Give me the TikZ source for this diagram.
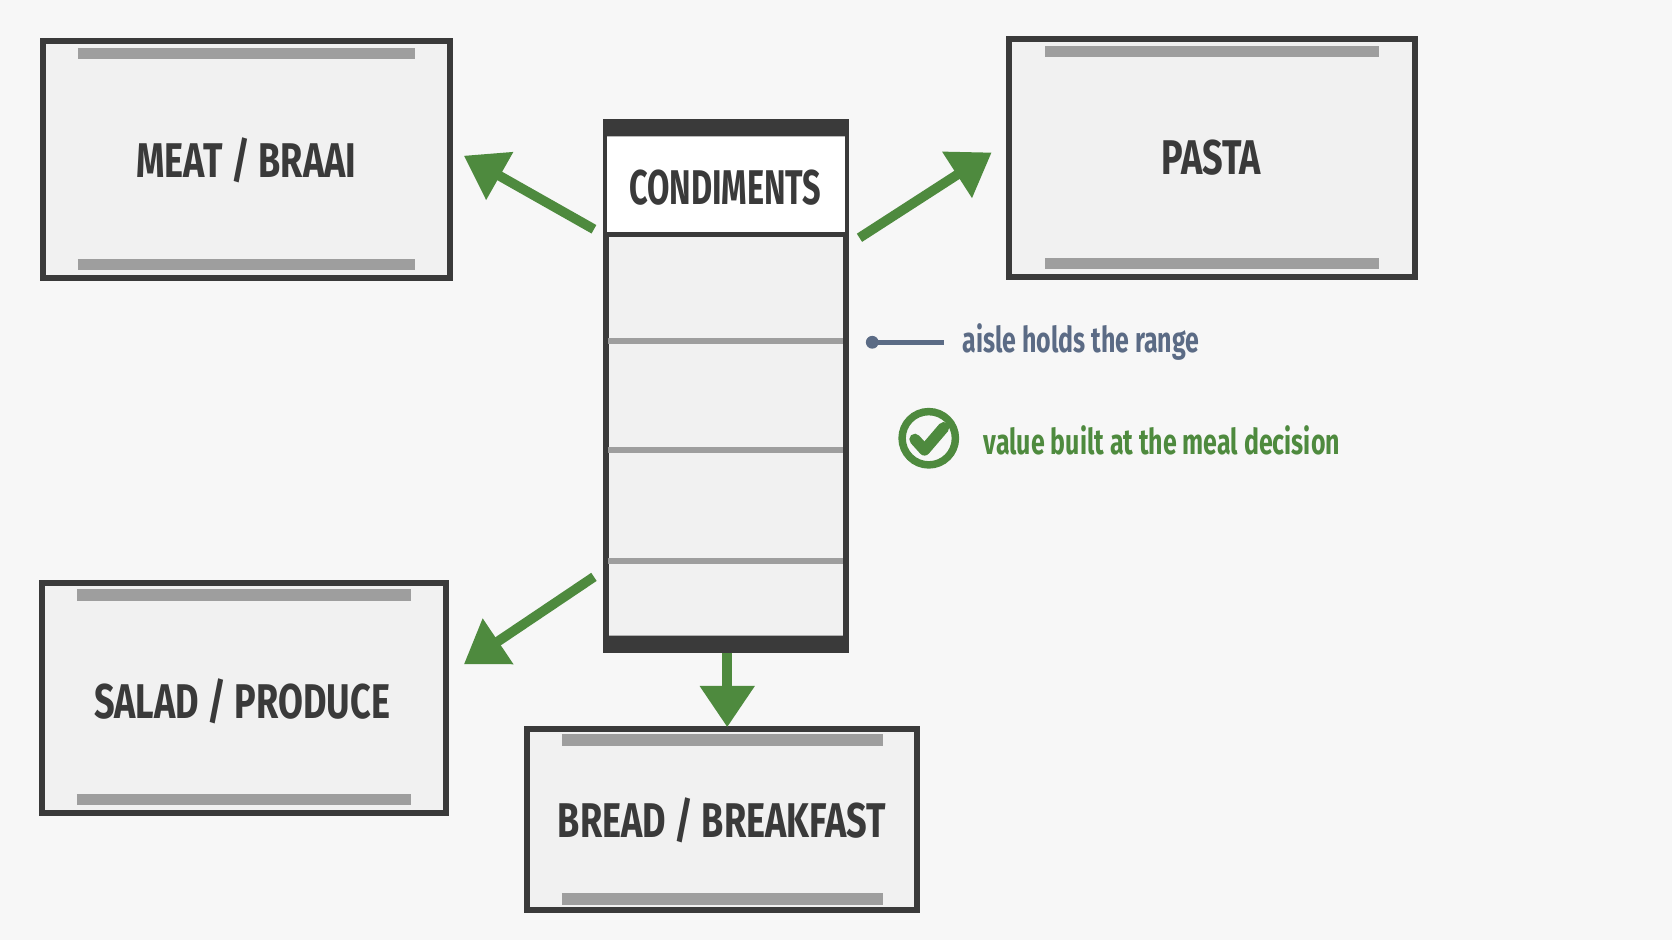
\documentclass[tikz,border=0pt]{standalone}
\usepackage{fontspec}
\setmainfont{Fira Sans}
\usetikzlibrary{arrows.meta}
\usetikzlibrary{positioning}

\definecolor{paper}{HTML}{F7F7F7}
\definecolor{boxfill}{HTML}{F1F1F1}
\definecolor{edge}{HTML}{3A3A3A}
\definecolor{bar}{HTML}{9E9E9E}
\definecolor{leaf}{HTML}{4E8A3E}
\definecolor{slate}{HTML}{5B6B85}

\tikzset{
 dept/.style={draw=edge, line width=1.6pt, fill=boxfill},
 shelfbar/.style={bar, line width=3pt},
 label/.style={font=\bfseries\fontsize{13}{15}\selectfont, text=edge, xscale=.74},
 flow/.style={leaf, line width=2.6pt, -{Triangle[length=11pt,width=14pt]}},
 note/.style={font=\bfseries\fontsize{9.5}{11}\selectfont, anchor=west, xscale=.7}
}

\begin{document}
\begin{tikzpicture}[x=0.01cm, y=-0.01cm]
\fill[paper] (0,0) rectangle (1568,882);
\useasboundingbox (0,0) rectangle (1568,882);
% departments
\draw[dept] (40,38) rectangle (422,261);
\draw[shelfbar] (73,50) -- (389,50) (73,248) -- (389,248);
\node[label] (meat) at (231,150) {MEAT / BRAAI};
\draw[dept] (946,37) rectangle (1327,260);
\draw[shelfbar] (980,48) -- (1293,48) (980,247) -- (1293,247);
\node[label] (pasta) at (1136,148) {PASTA};
\draw[dept] (39,547) rectangle (418,762);
\draw[shelfbar] (72,558) -- (385,558) (72,750) -- (385,750);
\node[label] (salad) at (227,658) {SALAD / PRODUCE};
\draw[dept] (494,684) rectangle (860,853);
\draw[shelfbar] (527,694) -- (828,694) (527,843) -- (828,843);
\node[label] (bread) at (677,769) {BREAD / BREAKFAST};
% condiments aisle
\draw[dept] (568,114) rectangle (793,610);
\fill[white] (569,128) rectangle (792,220);
\fill[edge] (568,114) rectangle (793,128) (568,596) rectangle (793,610);
\draw[edge, line width=1.5pt] (568,220) -- (793,220);
\foreach \y in {320,422,526}
 \draw[bar, line width=1.5pt] (570,\y) -- (791,\y);
\node[label, xscale=.9] (cond) at (680,176) {CONDIMENTS};
% flows
\coordinate (a1) at (557,215); \coordinate (b1) at (435,146);
\coordinate (a2) at (806,223); \coordinate (b2) at (930,143);
\coordinate (a3) at (557,541); \coordinate (b3) at (435,623);
\coordinate (a4) at (682,612); \coordinate (b4) at (682,682);
\foreach \i in {1,...,4}
 \draw[flow] (a\i) -- (b\i);
% notes
\fill[slate] (818,321) circle (6);
\draw[slate, line width=1.2pt] (818,321) -- (885,321);
\node[note, text=slate] (range) at (894,321) {aisle holds the range};
\draw[leaf, line width=2pt] (871,411) circle (25);
\draw[leaf, line width=3pt, line cap=round, line join=round] (858,412) -- (867,422) -- (885,401);
\node[note, text=leaf] (value) at (914,413) {value built at the meal decision};
\end{tikzpicture}
\end{document}
